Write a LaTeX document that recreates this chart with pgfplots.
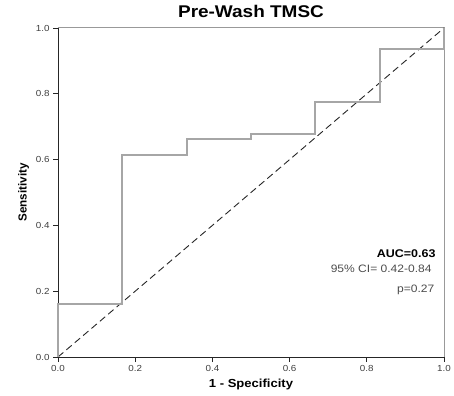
\documentclass[border=0pt]{standalone}
\usepackage{pgfplots}
\pgfplotsset{compat=1.18}
\usepackage{fontspec}
\setmainfont[FakeStretch=1.12]{Liberation Sans}
\newfontfamily\plainsans{Liberation Sans}
\begin{document}
\begin{tikzpicture}
\begin{axis}[
  scale only axis, width=386bp, height=329bp,
  xmin=0, xmax=1, ymin=0, ymax=1,
  axis x line*=bottom, axis y line*=left,
  axis line style={black!85, line width=0.9bp},
  xtick={0,0.2,0.4,0.6,0.8,1}, ytick={0,0.2,0.4,0.6,0.8,1},
  tick align=outside, major tick length=5bp,
  tick style={black!85, line width=0.7bp},
  ticklabel style={font=\fontsize{8.8}{10}\selectfont, text=black!75},
  /pgf/number format/assume math mode=true,
  /pgf/number format/fixed, /pgf/number format/fixed zerofill,
  /pgf/number format/precision=1,
  title={\bfseries Pre-Wash TMSC},
  title style={font=\fontsize{17}{19}\selectfont, at={(0.5,1)}, anchor=south, yshift=1bp},
  xlabel={\bfseries 1 - Specificity},
  xlabel style={font=\fontsize{11.7}{13}\selectfont},
  ylabel={\plainsans\bfseries Sensitivity},
  ylabel style={font=\fontsize{11.7}{13}\selectfont},
  clip=false,
]
\coordinate (sw) at (rel axis cs:0,0);
\coordinate (ne) at (rel axis cs:1,1);
\draw[black!40, line width=1bp] (rel axis cs:0,1) -- (rel axis cs:1,1) -- (rel axis cs:1,0);
\addplot[black!85, line width=0.9bp, dash pattern=on 7bp off 4bp] coordinates {(0,0) (1,1)};
\addplot[black!35, line width=1.8bp, line join=miter] coordinates {
(0,0) (0,0.161) (0.1667,0.161) (0.1667,0.614) (0.3333,0.614) (0.3333,0.663)
(0.5,0.663) (0.5,0.678) (0.6667,0.678) (0.6667,0.776) (0.8333,0.776)
(0.8333,0.935) (1,0.935) (1,1)};
\node[anchor=east, font=\fontsize{11.2}{12}\selectfont\bfseries] at (axis cs:0.987,0.313) {AUC=0.63};
\node[anchor=east, font=\fontsize{10.8}{12}\selectfont, text=black!70] at (axis cs:0.977,0.267) {95\% CI= 0.42-0.84};
\node[anchor=east, font=\fontsize{10.8}{12}\selectfont, text=black!70] at (axis cs:0.984,0.204) {p=0.27};
\end{axis}
\pgfresetboundingbox
\path ([shift={(-58bp,-39bp)}]sw) rectangle ([shift={(10bp,28bp)}]ne);
\end{tikzpicture}
\end{document}
